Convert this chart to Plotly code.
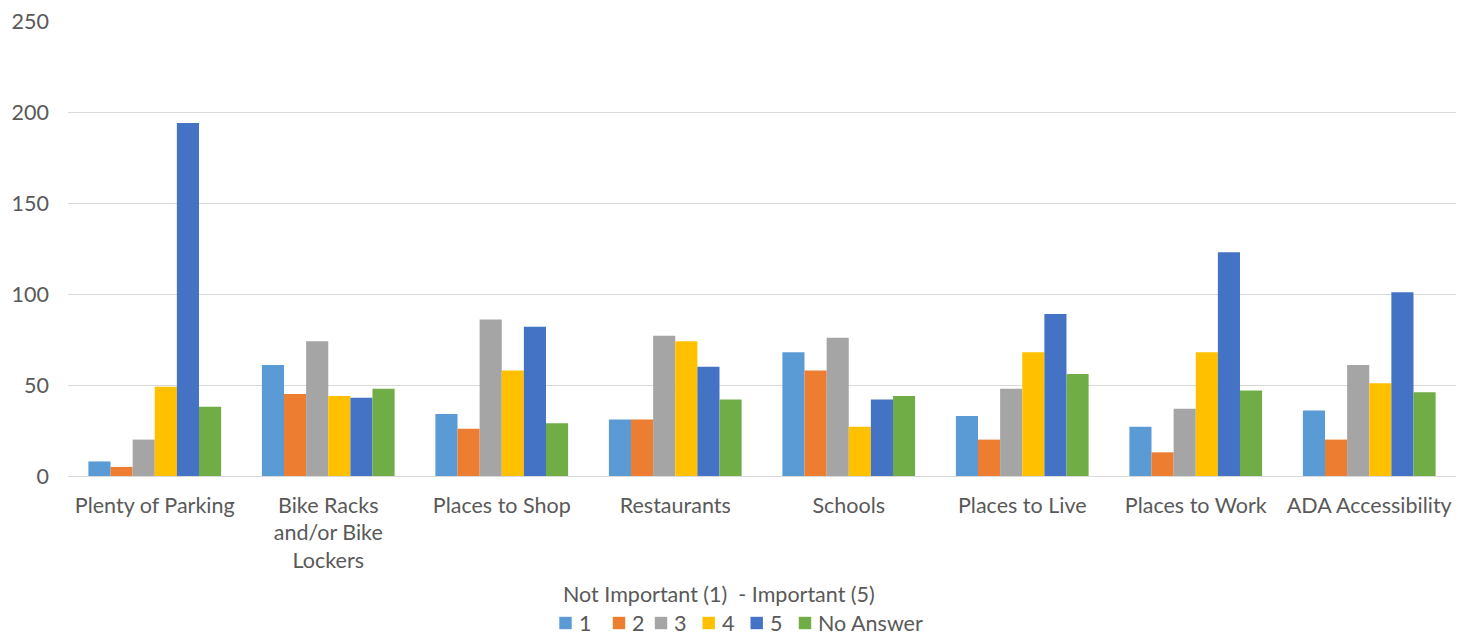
import plotly.graph_objects as go

categories = [
    "Plenty of Parking",
    "Bike Racks<br>and/or Bike<br>Lockers",
    "Places to Shop",
    "Restaurants",
    "Schools",
    "Places to Live",
    "Places to Work",
    "ADA Accessibility",
]

series_names = ["1", "2", "3", "4", "5", "No Answer"]
legend_title = "Not Important (1)  - Important (5)"

rating_1 = [8, 61, 34, 31, 68, 33, 27, 36]
rating_2 = [5, 45, 26, 31, 58, 20, 13, 20]
rating_3 = [20, 74, 86, 77, 76, 48, 37, 61]
rating_4 = [49, 44, 58, 74, 27, 68, 68, 51]
rating_5 = [194, 43, 82, 60, 42, 89, 123, 101]
no_answer = [38, 48, 29, 42, 44, 56, 47, 46]

y_ticks = [0, 50, 100, 150, 200, 250]

colors = ["#5B9BD5", "#ED7D31", "#A5A5A5", "#FFC000", "#4472C4", "#70AD47"]
values = [rating_1, rating_2, rating_3, rating_4, rating_5, no_answer]

text_color = "#595959"
font_family = "Lato, Open Sans, sans-serif"
fs = 21.5

W, H = 1458, 639
M_L, M_R, M_T, M_B = 68, 2, 21, 163
PLOT_W = W - M_L - M_R
PLOT_H = H - M_T - M_B


def px_x(px):
    """Horizontal pixel position -> paper fraction."""
    return (px - M_L) / PLOT_W


def px_y(py):
    """Vertical pixel position (from top) -> paper fraction."""
    return (H - M_B - py) / PLOT_H


fig = go.Figure()
for name, vals, col in zip(series_names, values, colors):
    fig.add_trace(go.Bar(
        x=categories,
        y=vals,
        name=name,
        marker=dict(color=col, line=dict(width=0)),
        showlegend=False,
    ))

# Legend drawn below the plot: a title line and a row of swatches
swatch_centers = [565.5, 619, 661, 708.7, 756.7, 805]
row_y = 623
half = 6.2
shapes = []
annotations = [dict(
    text=legend_title, xref="paper", yref="paper",
    x=px_x(561), y=px_y(594), xanchor="left", yanchor="middle",
    showarrow=False, font=dict(size=fs, color=text_color, family=font_family),
)]
for name, col, cx in zip(series_names, colors, swatch_centers):
    shapes.append(dict(
        type="rect", xref="paper", yref="paper",
        x0=px_x(cx - half), x1=px_x(cx + half),
        y0=px_y(row_y + half), y1=px_y(row_y - half),
        fillcolor=col, line=dict(width=0),
    ))
    annotations.append(dict(
        text=name, xref="paper", yref="paper",
        x=px_x(cx + half + 5), y=px_y(row_y), xanchor="left", yanchor="middle",
        showarrow=False, font=dict(size=fs, color=text_color, family=font_family),
    ))

fig.update_layout(
    width=W,
    height=H,
    barmode="group",
    bargap=0.235,
    bargroupgap=0,
    plot_bgcolor="white",
    paper_bgcolor="white",
    margin=dict(l=M_L, r=M_R, t=M_T, b=M_B, autoexpand=False),
    font=dict(family=font_family, size=fs, color=text_color),
    showlegend=False,
    shapes=shapes,
    annotations=annotations,
    xaxis=dict(
        showgrid=False,
        showline=False,
        ticks="",
        ticklabelstandoff=14,
        tickfont=dict(size=fs, color=text_color),
    ),
    yaxis=dict(
        range=[0, 250],
        tickvals=y_ticks,
        showgrid=True,
        gridcolor="#D9D9D9",
        gridwidth=1,
        zeroline=True,
        zerolinecolor="#D9D9D9",
        zerolinewidth=1,
        showline=False,
        ticks="",
        ticklabelstandoff=18,
        tickfont=dict(size=fs, color=text_color),
    ),
)

fig.write_html("out.html")
